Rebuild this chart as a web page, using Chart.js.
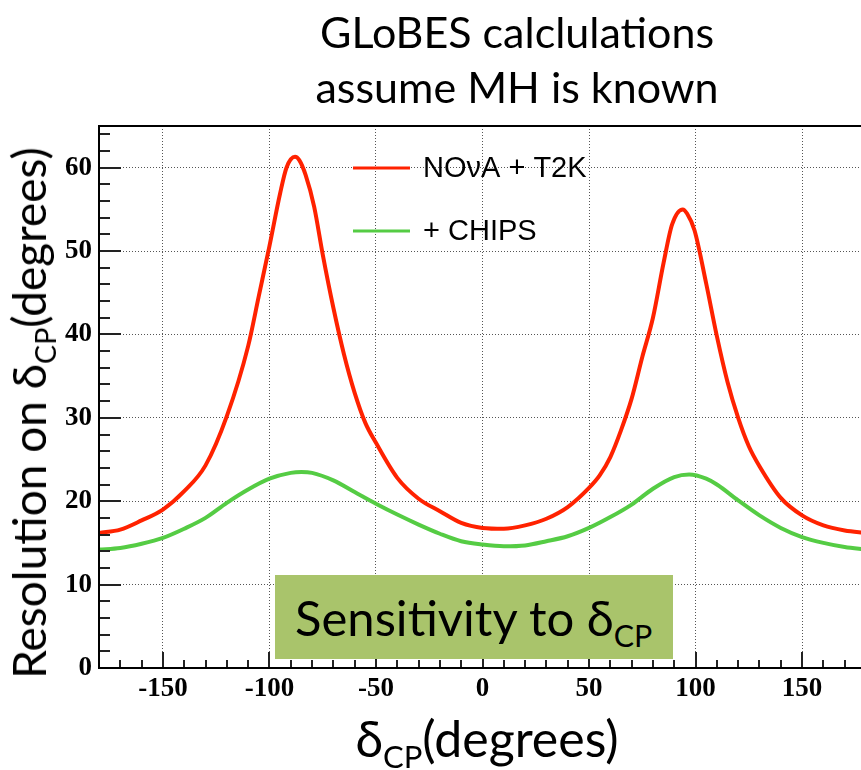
<!DOCTYPE html>
<html>
<head>
<meta charset="utf-8">
<script src="https://cdn.jsdelivr.net/npm/chart.js@4.4.1/dist/chart.umd.min.js"></script>
<style>
html, body { margin: 0; padding: 0; overflow: hidden; background: #fff; }
#wrap { position: relative; width: 861px; height: 770px; overflow: hidden; }
#chart { position: absolute; left: 0; top: 0; }
.txt { position: absolute; font-family: Lato, sans-serif; color: #000; white-space: nowrap; }
.txt sub { font-size: 62%; vertical-align: -0.35em; line-height: 0; }
#title { left: 267px; top: 4px; width: 500px; text-align: center; font-size: 43px; line-height: 55px; }
#ytitle { left: 29px; top: 413px; font-size: 46px; line-height: 1; transform: translate(-50%, -50%) rotate(-90deg); }
#xtitle { left: 487px; top: 738px; font-size: 50px; line-height: 1; transform: translate(-50%, -50%); }
#box { left: 275px; top: 575px; width: 398px; height: 84px; background: #a9c46b; font-size: 49px; line-height: 84px; }
#box span { margin-left: 20px; }
</style>
</head>
<body>
<div id="wrap">
  <canvas id="chart" width="880" height="770"></canvas>
  <div class="txt" id="title">GLoBES calclulations<br>assume MH is known</div>
  <div class="txt" id="ytitle">Resolution on δ<sub>CP</sub>(degrees)</div>
  <div class="txt" id="xtitle">δ<sub>CP</sub>(degrees)</div>
  <div class="txt" id="box"><span>Sensitivity to δ<sub>CP</sub></span></div>
</div>
<script>
// NOvA + T2K
const deltaNova = [-180, -170, -160, -150, -140, -130, -120, -110, -105, -100, -95, -92, -88, -86, -83, -79, -75, -70, -65, -60, -55, -50, -40, -30, -20, -10, 0, 10, 20, 30, 40, 50, 55, 60, 65, 70, 75, 80, 85, 89, 94, 96, 99.5, 105, 110, 115, 120, 125, 130, 140, 150, 160, 170, 180];
const resNova = [16.2, 16.6, 17.7, 19.0, 21.2, 24.3, 30.2, 38.6, 44.6, 50.6, 56.9, 60.0, 61.3, 60.9, 59.1, 55.3, 49.6, 43.2, 37.6, 33.0, 29.4, 27.0, 22.8, 20.3, 18.8, 17.4, 16.8, 16.7, 17.1, 17.9, 19.3, 21.6, 23.1, 25.3, 28.5, 32.3, 37.3, 42.0, 48.6, 53.2, 55.0, 54.5, 52.5, 46.1, 39.8, 34.3, 30.0, 26.6, 24.2, 20.4, 18.3, 17.1, 16.5, 16.2];

// + CHIPS
const deltaChips = [-180, -170, -160, -150, -140, -130, -120, -110, -100, -90, -85, -80, -70, -60, -50, -40, -30, -20, -10, 0, 10, 20, 30, 40, 50, 60, 70, 80, 90, 97, 105, 110, 120, 130, 140, 150, 160, 170, 180];
const resChips = [14.2, 14.4, 14.9, 15.6, 16.7, 18.0, 19.8, 21.4, 22.7, 23.4, 23.5, 23.4, 22.5, 21.1, 19.7, 18.4, 17.2, 16.1, 15.2, 14.8, 14.6, 14.7, 15.2, 15.8, 16.8, 18.1, 19.6, 21.5, 22.9, 23.2, 22.7, 22.0, 20.1, 18.3, 16.8, 15.7, 15.0, 14.5, 14.2];

const deltaTicks = [-150, -100, -50, 0, 50, 100, 150];
const deltaMinor = [-170, -160, -140, -130, -120, -110, -90, -80, -70, -60, -40, -30, -20, -10, 10, 20, 30, 40, 60, 70, 80, 90, 110, 120, 130, 140, 160, 170];
const resTicks = [0, 10, 20, 30, 40, 50, 60];
const resMinor = [2, 4, 6, 8, 12, 14, 16, 18, 22, 24, 26, 28, 32, 34, 36, 38, 42, 44, 46, 48, 52, 54, 56, 58, 62, 64];

const seriesNames = ['NOνA + T2K', '+ CHIPS'];
const seriesColors = ['#ff2200', '#55cc44'];

// ROOT style frame, inner ticks and the legend
const rootFrame = {
    id: 'rootFrame',
    afterDatasetsDraw(chart) {
        const {ctx, chartArea: a, scales: {x, y}} = chart;
        ctx.save();
        ctx.strokeStyle = '#222';
        ctx.lineWidth = 2;
        ctx.beginPath();
        resTicks.forEach(v => {
            const py = Math.round(y.getPixelForValue(v));
            ctx.moveTo(a.left, py); ctx.lineTo(a.left + 22, py);
        });
        resMinor.forEach(v => {
            const py = Math.round(y.getPixelForValue(v));
            ctx.moveTo(a.left, py); ctx.lineTo(a.left + 11, py);
        });
        deltaTicks.forEach(v => {
            const px = Math.round(x.getPixelForValue(v));
            ctx.moveTo(px, a.bottom); ctx.lineTo(px, a.bottom - 16);
        });
        deltaMinor.forEach(v => {
            const px = Math.round(x.getPixelForValue(v));
            ctx.moveTo(px, a.bottom); ctx.lineTo(px, a.bottom - 8);
        });
        ctx.stroke();

        ctx.strokeStyle = '#000';
        ctx.lineWidth = 2;
        ctx.strokeRect(a.left, a.top, a.right - a.left, a.bottom - a.top);

        // legend
        const rows = [168, 231];
        ctx.font = '29px "Liberation Sans", Arial, sans-serif';
        ctx.textBaseline = 'middle';
        ctx.fillStyle = '#000';
        chart.data.datasets.forEach((ds, i) => {
            ctx.strokeStyle = ds.borderColor;
            ctx.lineWidth = 3;
            ctx.beginPath();
            ctx.moveTo(353, rows[i]); ctx.lineTo(410, rows[i]);
            ctx.stroke();
            ctx.fillText(ds.label, 423, rows[i] + 1);
        });
        ctx.restore();
    }
};

const tickFont = {family: '"Liberation Serif", "Times New Roman", serif', size: 27, weight: 'bold'};

new Chart(document.getElementById('chart'), {
    type: 'line',
    data: {
        datasets: [{
            label: seriesNames[0],
            data: deltaNova.map((d, i) => ({x: d, y: resNova[i]})),
            borderColor: seriesColors[0],
            borderWidth: 4,
            pointRadius: 0,
            cubicInterpolationMode: 'monotone'
        }, {
            label: seriesNames[1],
            data: deltaChips.map((d, i) => ({x: d, y: resChips[i]})),
            borderColor: seriesColors[1],
            borderWidth: 4,
            pointRadius: 0,
            cubicInterpolationMode: 'monotone'
        }]
    },
    options: {
        responsive: false,
        animation: false,
        layout: {padding: {left: 0, top: 126, right: 14, bottom: 0}},
        plugins: {legend: {display: false}, tooltip: {enabled: false}},
        scales: {
            x: {
                type: 'linear',
                min: -180,
                max: 180,
                afterBuildTicks: s => { s.ticks = deltaTicks.map(v => ({value: v})); },
                afterFit: s => { s.height = 102; },
                ticks: {color: '#000', font: tickFont, padding: 5, maxRotation: 0, autoSkip: false},
                grid: {color: '#555', lineWidth: 1, drawTicks: false},
                border: {display: false, dash: [1, 2]}
            },
            y: {
                type: 'linear',
                min: 0,
                max: 65,
                afterBuildTicks: s => { s.ticks = resTicks.map(v => ({value: v})); },
                afterFit: s => { s.width = 99; },
                ticks: {color: '#000', font: tickFont, padding: 7},
                grid: {color: '#555', lineWidth: 1, drawTicks: false},
                border: {display: false, dash: [1, 2]}
            }
        }
    },
    plugins: [rootFrame]
});
</script>
</body>
</html>
